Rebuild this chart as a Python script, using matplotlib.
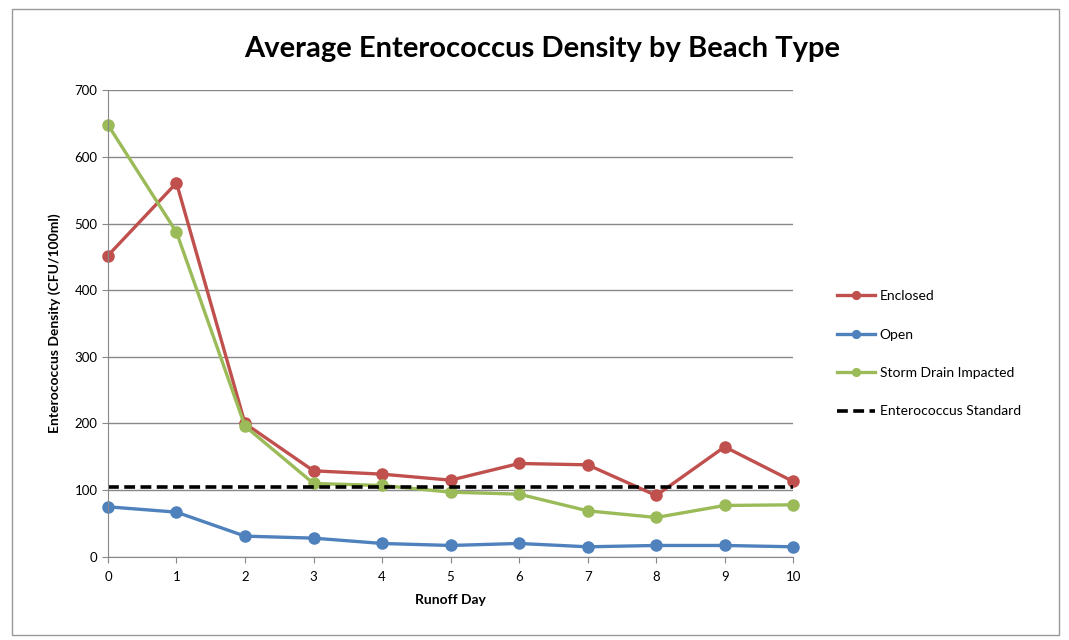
import numpy as np
import matplotlib.pyplot as plt
from matplotlib.patches import Rectangle

days = np.arange(11)
enclosed = [452, 561, 200, 129, 124, 115, 140, 138, 92, 165, 113]
open_beach = [75, 67, 31, 28, 20, 17, 20, 15, 17, 17, 15]
storm_drain = [648, 487, 196, 110, 107, 97, 94, 69, 59, 77, 78]
standard = 104

plt.rcParams['font.family'] = ['Lato', 'DejaVu Sans']

fig = plt.figure(figsize=(10.69, 6.4), dpi=100)
ax = fig.add_axes([0.101, 0.130, 0.641, 0.729])

ax.plot(days, enclosed, color='#C0504D', lw=2.4, marker='o', ms=8, label='Enclosed')
ax.plot(days, open_beach, color='#4F81BD', lw=2.4, marker='o', ms=8, label='Open')
ax.plot(days, storm_drain, color='#9BBB59', lw=2.4, marker='o', ms=8, label='Storm Drain Impacted')
ax.plot(days, [standard] * len(days), color='black', lw=2.6, ls=(0, (3, 1.5)),
        label='Enterococcus Standard')

ax.set_xlim(0, 10)
ax.set_ylim(0, 700)
ax.set_xticks(days)
ax.set_yticks(np.arange(0, 701, 100))
ax.tick_params(labelsize=9.5, color='#888888', length=4)
ax.tick_params(axis='x', pad=6)
ax.grid(axis='y', color='#888888', lw=1)
ax.set_axisbelow(True)
for s in ['top', 'right']:
    ax.spines[s].set_visible(False)
for s in ['left', 'bottom']:
    ax.spines[s].set_color('#888888')
for ln in ax.lines:
    ln.set_clip_on(False)

ax.set_xlabel('Runoff Day', fontsize=10, fontweight='bold', labelpad=8)
ax.set_ylabel('Enterococcus Density (CFU/100ml)', fontsize=10, fontweight='bold', labelpad=10)
fig.text(0.507, 0.923, 'Average Enterococcus Density by Beach Type', ha='center', va='center',
         fontsize=21, fontweight='bold')

ax.legend(loc='center left', bbox_to_anchor=(1.045, 0.435), frameon=False, fontsize=10,
          handlelength=2.8, labelspacing=1.9, handletextpad=0.3, markerscale=0.7)

fig.patches.append(Rectangle((0.011, 0.008), 0.98, 0.978, transform=fig.transFigure,
                             fill=False, edgecolor='#999999', lw=1))

fig.savefig('out.png', dpi=100)
